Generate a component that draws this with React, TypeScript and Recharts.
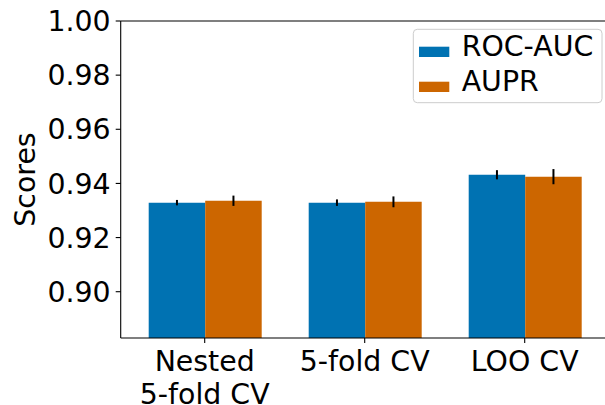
import { Bar, BarChart, ErrorBar, Legend, ReferenceLine, XAxis, YAxis } from "recharts";

const categories = ["Nested\n5-fold CV", "5-fold CV", "LOO CV"];
const rocAuc = [0.9329, 0.9329, 0.9432];
const rocAucErr = [0.001, 0.0012, 0.0017];
const aupr = [0.9336, 0.9332, 0.9425];
const auprErr = [0.0019, 0.002, 0.0028];
const yTicks = [0.9, 0.92, 0.94, 0.96, 0.98, 1.0];

const BLUE = "#0072B2";
const ORANGE = "#CC6600";
const FONT = "'DejaVu Sans', sans-serif";
const FS = 28.4;

const data = categories.map((name, i) => ({
  name,
  rocAuc: rocAuc[i],
  rocAucErr: rocAucErr[i],
  aupr: aupr[i],
  auprErr: auprErr[i],
}));

function XTick({ x, y, payload }: any) {
  const lines = String(payload.value).split("\n");
  return (
    <text x={x} y={y} textAnchor="middle" fontFamily={FONT} fontSize={FS} fill="#000">
      {lines.map((l, i) => (
        <tspan key={i} x={x} dy={i === 0 ? 25.5 : 33.4}>
          {l}
        </tspan>
      ))}
    </text>
  );
}

function LegendBox() {
  const items = [
    { label: "ROC-AUC", color: BLUE, y: 46.7, base: 56 },
    { label: "AUPR", color: ORANGE, y: 81.7, base: 91 },
  ];
  return (
    <svg width={605} height={120} style={{ display: "block" }}>
      <rect x={413.3} y={29.3} width={188.7} height={73.4} rx={4} fill="#fff" fillOpacity={0.8} stroke="#cccccc" />
      {items.map((it) => (
        <g key={it.label}>
          <rect x={419} y={it.y} width={30.3} height={10.3} fill={it.color} />
          <text x={461.7} y={it.base} fontFamily={FONT} fontSize={FS} fill="#000">
            {it.label}
          </text>
        </g>
      ))}
    </svg>
  );
}

export default function App() {
  return (
    <div style={{ position: "absolute", left: 0, top: 0, width: 605, height: 405, overflow: "hidden", background: "#fff" }}>
      <BarChart
        width={620}
        height={405}
        data={data}
        margin={{ top: 21, right: 11.3, left: 0, bottom: 0 }}
        barGap={0}
      >
        <XAxis
          dataKey="name"
          height={67}
          padding={{ left: 4, right: 4 }}
          axisLine={{ stroke: "#000", strokeWidth: 1.1 }}
          tickLine={{ stroke: "#000", strokeWidth: 1.1 }}
          tickSize={5}
          tick={<XTick />}
          interval={0}
        />
        <YAxis
          width={120.7}
          type="number"
          domain={[0.8829, 1.0]}
          ticks={yTicks}
          allowDataOverflow
          tickFormatter={(v: number) => v.toFixed(2)}
          axisLine={{ stroke: "#000", strokeWidth: 1.1 }}
          tickLine={{ stroke: "#000", strokeWidth: 1.1 }}
          tickSize={5}
          tickMargin={5}
          tick={{ fill: "#000", fontFamily: FONT, fontSize: FS }}
          label={{
            content: () => (
              <text
                x={35}
                y={179.5}
                transform="rotate(-90, 35, 179.5)"
                textAnchor="middle"
                fontFamily={FONT}
                fontSize={FS}
                fill="#000"
              >
                Scores
              </text>
            ),
          }}
        />
        <ReferenceLine y={1.0} stroke="#000" strokeWidth={1.1} />
        <Bar dataKey="rocAuc" name="ROC-AUC" fill={BLUE} barSize={56.5} isAnimationActive={false}>
          <ErrorBar dataKey="rocAucErr" width={0} stroke="#000" strokeWidth={2} />
        </Bar>
        <Bar dataKey="aupr" name="AUPR" fill={ORANGE} barSize={56.5} isAnimationActive={false}>
          <ErrorBar dataKey="auprErr" width={0} stroke="#000" strokeWidth={2} />
        </Bar>
        <Legend
          layout="horizontal"
          verticalAlign="middle"
          align="center"
          wrapperStyle={{ position: "absolute", left: 0, top: 0, width: 605, height: 120 }}
          content={() => <LegendBox />}
        />
      </BarChart>
    </div>
  );
}
